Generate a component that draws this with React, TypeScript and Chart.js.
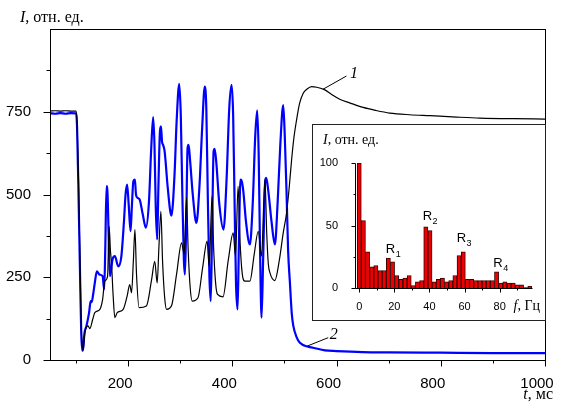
import React, { useEffect, useRef } from "react";
import { Chart, registerables } from "chart.js";
Chart.register(...registerables);

const SANS = '"Liberation Sans", Arial, sans-serif';
const SERIF = '"Liberation Serif", "Times New Roman", serif';

// ---- main chart: curve 2 (blue) ----
const timeBlue = [50, 60, 70, 80, 90, 100, 102, 105, 108, 110, 112, 114, 116, 120, 125, 128, 130, 133, 136, 140, 145, 151, 154, 156, 158.5, 160.5, 162.5, 165, 170, 174.5, 181, 187, 192, 195, 198, 201, 204.6, 207, 210, 213, 215, 218, 222, 228, 234, 240, 244, 248, 250.5, 253, 255.7, 258, 261, 263, 265, 267, 270, 276, 283, 289, 293, 298, 301, 304, 307, 309, 311.5, 314, 316, 319, 324, 331, 337, 342, 347, 350, 353, 356, 358.5, 361, 364, 366, 369, 375, 383, 389, 394, 398.5, 401.5, 404.5, 407, 410, 412.5, 415.5, 418, 421, 426, 433.6, 439, 444, 447.7, 450.5, 453, 456, 459, 463, 465, 469, 475, 481.6, 487, 492, 497.6, 500.5, 504, 507, 510.4, 514, 517, 523, 529.6, 545.6, 555, 577.6, 600, 650, 700, 800, 900, 1000];
const valueBlue = [746, 744, 746, 744, 746, 745, 700, 480, 230, 80, 28, 40, 80, 103, 143, 178, 175, 200, 233, 268, 258, 253, 213, 330, 525, 500, 380, 253, 304, 314, 283, 314, 420, 500, 530, 470, 389, 460, 540, 545, 500, 490, 485, 440, 400, 480, 630, 734, 650, 460, 364, 520, 690, 706, 660, 650, 630, 520, 436, 560, 720, 834, 740, 500, 300, 258, 420, 640, 650, 600, 500, 414, 530, 700, 826, 760, 480, 250, 178, 380, 630, 638, 600, 470, 394, 550, 760, 831, 740, 450, 230, 153, 350, 545, 540, 510, 420, 349, 470, 680, 754, 620, 350, 128, 300, 540, 550, 510, 420, 349, 480, 650, 770, 680, 505, 330, 235, 140, 103, 70, 52, 40, 37, 29, 27, 24, 23, 22, 21, 21];

// ---- main chart: curve 1 (black) ----
const timeBlack = [50, 60, 70, 80, 90, 100, 102, 105, 108, 110, 113.6, 116, 118, 123, 126.5, 132, 136, 145.7, 151, 155, 160.5, 163.5, 166, 168, 171, 174.5, 179, 190.4, 198, 203, 206.5, 210, 213, 216, 221, 235, 245, 251, 255.7, 259, 262.8, 266, 270, 273.7, 283, 293, 302.5, 307.5, 312, 315, 319, 323, 334, 343, 351.6, 355.5, 361, 364, 368, 371.6, 382, 392, 401.6, 406, 411, 415, 419, 424, 433.6, 442, 449.6, 456, 462.5, 466, 469, 472, 481.6, 490, 497.6, 504, 509, 513.7, 518, 523.3, 529, 536, 543, 552, 562, 577.6, 590, 606, 625, 651, 675, 702, 740, 779, 830, 875, 940, 1000];
const valueBlack = [752, 753, 752, 753, 752, 752, 720, 520, 260, 100, 30, 70, 92, 103, 95, 123, 143, 153, 183, 238, 253, 404, 330, 294, 200, 128, 143, 153, 193, 228, 203, 300, 394, 260, 158, 163, 243, 298, 233, 340, 449, 300, 190, 153, 163, 260, 354, 320, 490, 340, 220, 178, 188, 280, 359, 283, 495, 340, 230, 198, 191, 300, 384, 314, 525, 350, 260, 238, 238, 320, 389, 314, 545, 380, 290, 264, 240, 300, 384, 444, 520, 605, 670, 726, 775, 806, 818, 826, 824, 816, 803, 788, 777, 763, 754, 746, 741, 738, 734, 731, 729, 728];

const xTickMarksMain = [100, 200, 300, 400, 500, 600, 700, 800, 900, 1000];
const xLabelsMain = [200, 400, 600, 800, 1000];
const yTickMarksMain = [0, 125, 250, 375, 500, 625, 750, 875];
const yLabelsMain = [0, 250, 500, 750];

// ---- inset: spectrum ----
const spectrumFreq = [0, 2.37, 4.74, 7.11, 9.48, 11.85, 14.22, 16.59, 18.96, 21.33, 23.7, 26.07, 28.44, 30.81, 33.18, 35.55, 37.92, 40.29, 42.66, 45.03, 47.4, 49.77, 52.14, 54.51, 56.88, 59.25, 61.62, 63.99, 66.36, 68.73, 71.1, 73.47, 75.84, 78.21, 80.58, 82.95, 85.32, 87.69, 90.06, 92.43, 94.8, 97.17];
const spectrumAmp = [100, 54, 29, 17, 18, 14, 14, 24, 21, 10, 7, 8, 10, 2, 5, 6, 49, 46, 5, 7, 8, 5, 6, 10, 26, 29, 7, 7, 6, 6, 6, 6, 6, 13, 4, 5, 4, 4, 2.5, 2.5, 0.4, 1.3];
const insetXTickMarks = [0, 10, 20, 30, 40, 50, 60, 70, 80, 90];
const insetXLabels = [0, 20, 40, 60, 80];
const insetYTickMarks = [0, 25, 50, 75, 100];
const insetYLabels = [0, 50, 100];
const peakNames = ["R", "R", "R", "R"];
const peakSubs = ["1", "2", "3", "4"];
const peakFreq = [17.8, 38.8, 58.2, 79];
const peakLevel = [27.8, 54.4, 36.8, 17];

// annotation leaders (data coordinates)
const leader1 = { from: [574, 818], to: [619, 858], text: [625.6, 852.5] };
const leader2 = { from: [543.6, 42], to: [584, 67.5], text: [587, 62.4] };

type Part = [string, boolean];
function drawParts(ctx: CanvasRenderingContext2D, parts: Part[], x: number, y: number, size: number, align: "left" | "right") {
  const fonts = parts.map((p) => `${p[1] ? "italic " : ""}${size}px ${SERIF}`);
  const widths = parts.map((p, i) => {
    ctx.font = fonts[i];
    return ctx.measureText(p[0]).width;
  });
  const total = widths.reduce((a, b) => a + b, 0);
  let cx = align === "right" ? x - total : x;
  ctx.textAlign = "left";
  ctx.textBaseline = "alphabetic";
  parts.forEach((p, i) => {
    ctx.font = fonts[i];
    ctx.fillText(p[0], cx, y);
    cx += widths[i];
  });
}

function line(ctx: CanvasRenderingContext2D, x1: number, y1: number, x2: number, y2: number) {
  ctx.beginPath();
  ctx.moveTo(x1, y1);
  ctx.lineTo(x2, y2);
  ctx.stroke();
}

const noPad = (s: any) => {
  s.paddingLeft = 0;
  s.paddingRight = 0;
  s.paddingTop = 0;
  s.paddingBottom = 0;
};

const mainDecor = {
  id: "mainDecor",
  afterDraw(chart: any) {
    const { ctx, chartArea: a, scales } = chart;
    const x = scales.x;
    const y = scales.y;
    ctx.save();
    ctx.strokeStyle = "#000";
    ctx.lineWidth = 1;
    const L = Math.round(a.left) + 0.5;
    const T = Math.round(a.top) + 0.5;
    const R = Math.round(a.right) + 0.5;
    const B = Math.round(a.bottom) + 0.5;
    ctx.strokeRect(L, T, R - L, B - T);
    xTickMarksMain.forEach((v) => {
      const px = Math.round(x.getPixelForValue(v)) + 0.5;
      const len = xLabelsMain.includes(v) ? 6 : 3;
      line(ctx, px, B, px, B + len);
    });
    yTickMarksMain.forEach((v) => {
      const py = Math.round(y.getPixelForValue(v)) + 0.5;
      const len = yLabelsMain.includes(v) ? 7 : 4;
      line(ctx, L, py, L - len, py);
    });
    [leader1, leader2].forEach((ld, i) => {
      line(ctx, x.getPixelForValue(ld.from[0]), y.getPixelForValue(ld.from[1]), x.getPixelForValue(ld.to[0]), y.getPixelForValue(ld.to[1]));
      ctx.fillStyle = "#000";
      drawParts(ctx, [[String(i + 1), true]], x.getPixelForValue(ld.text[0]), y.getPixelForValue(ld.text[1]), 16, "left");
    });
    ctx.fillStyle = "#000";
    drawParts(ctx, [["I", true], [", отн. ед.", false]], 20, 22, 16, "left");
    drawParts(ctx, [["t", true], [", мс", false]], 553, 399, 16, "right");
    ctx.restore();
  },
};

const insetDecor = {
  id: "insetDecor",
  beforeDraw(chart: any) {
    const { ctx, width, height } = chart;
    ctx.save();
    ctx.fillStyle = "#fff";
    ctx.fillRect(0, 0, width, height);
    ctx.restore();
  },
  afterDraw(chart: any) {
    const { ctx, chartArea: a, scales, width, height } = chart;
    const x = scales.x;
    const y = scales.y;
    ctx.save();
    ctx.strokeStyle = "#222";
    ctx.lineWidth = 1;
    ctx.strokeRect(0.5, 0.5, width - 1, height - 1);
    ctx.strokeStyle = "#000";
    const L = Math.round(a.left) + 0.5;
    const T = Math.round(a.top) + 0.5;
    const R = Math.round(a.right) + 0.5;
    const B = Math.round(a.bottom) + 0.5;
    line(ctx, L, T, L, B);
    line(ctx, L, B, R, B);
    insetXTickMarks.forEach((v) => {
      const px = Math.round(x.getPixelForValue(v)) + 0.5;
      const len = insetXLabels.includes(v) ? 4 : 2;
      line(ctx, px, B, px, B + len);
    });
    insetYTickMarks.forEach((v) => {
      const py = Math.round(y.getPixelForValue(v)) + 0.5;
      const len = insetYLabels.includes(v) ? 4 : 2;
      line(ctx, L, py, L - len, py);
    });
    ctx.fillStyle = "#000";
    drawParts(ctx, [["I", true], [", отн. ед.", false]], 11, 20, 14, "left");
    drawParts(ctx, [["f", true], [", Гц", false]], 228, 186, 14, "right");
    peakNames.forEach((n, i) => {
      const px = x.getPixelForValue(peakFreq[i]);
      const py = y.getPixelForValue(peakLevel[i]);
      ctx.font = `13px ${SANS}`;
      ctx.textAlign = "center";
      ctx.textBaseline = "alphabetic";
      const w = ctx.measureText(n).width;
      ctx.fillText(n, px, py);
      ctx.font = `9px ${SANS}`;
      ctx.textAlign = "left";
      ctx.fillText(peakSubs[i], px + w / 2 + 0.5, py + 4);
    });
    ctx.restore();
  },
};

export default function App() {
  const mainRef = useRef<HTMLCanvasElement>(null);
  const insetRef = useRef<HTMLCanvasElement>(null);

  useEffect(() => {
    const blueData = timeBlue.map((t, i) => ({ x: t, y: valueBlue[i] }));
    const blackData = timeBlack.map((t, i) => ({ x: t, y: valueBlack[i] }));
    const main = new Chart(mainRef.current as HTMLCanvasElement, {
      type: "line",
      data: {
        datasets: [
          {
            label: "1",
            data: blackData,
            borderColor: "#000",
            borderWidth: 1.2,
            pointRadius: 0,
            cubicInterpolationMode: "monotone",
            order: 0,
          },
          {
            label: "2",
            data: blueData,
            borderColor: "#0000ff",
            borderWidth: 2.2,
            pointRadius: 0,
            cubicInterpolationMode: "monotone",
            order: 1,
          },
        ],
      },
      options: {
        responsive: false,
        animation: false,
        devicePixelRatio: 1,
        layout: { padding: { left: 0, right: 17, top: 29, bottom: 0 } },
        plugins: { legend: { display: false }, tooltip: { enabled: false } },
        events: [],
        scales: {
          x: {
            type: "linear",
            min: 50,
            max: 1000,
            afterBuildTicks: (s: any) => {
              s.ticks = xLabelsMain.map((v) => ({ value: v }));
            },
            afterFit: (s: any) => {
              s.height = 46;
              noPad(s);
            },
            ticks: {
              autoSkip: false,
              maxRotation: 0,
              padding: 7,
              labelOffset: -8,
              color: "#000",
              font: { family: SANS, size: 15 },
              callback: (v: any) => String(v),
            },
            grid: { display: false },
            border: { display: false },
          },
          y: {
            type: "linear",
            min: 0,
            max: 1000,
            afterBuildTicks: (s: any) => {
              s.ticks = yLabelsMain.map((v) => ({ value: v }));
            },
            afterFit: (s: any) => {
              s.width = 50;
              noPad(s);
            },
            ticks: {
              autoSkip: false,
              padding: 11,
              color: "#000",
              font: { family: SANS, size: 15 },
              callback: (v: any) => String(v),
            },
            grid: { display: false },
            border: { display: false },
          },
        },
      } as any,
      plugins: [mainDecor],
    });

    const inset = new Chart(insetRef.current as HTMLCanvasElement, {
      type: "bar",
      data: {
        datasets: [
          {
            data: spectrumFreq.map((f, i) => ({ x: f, y: spectrumAmp[i] })),
            backgroundColor: "#ee0000",
            borderColor: "#3a0000",
            borderWidth: 1,
            barPercentage: 1,
            categoryPercentage: 1,
          },
        ],
      },
      options: {
        responsive: false,
        animation: false,
        devicePixelRatio: 1,
        layout: { padding: { left: 0, right: 14, top: 39, bottom: 0 } },
        plugins: { legend: { display: false }, tooltip: { enabled: false } },
        events: [],
        scales: {
          x: {
            type: "linear",
            min: -2.4,
            max: 98.4,
            offset: false,
            afterBuildTicks: (s: any) => {
              s.ticks = insetXLabels.map((v) => ({ value: v }));
            },
            afterFit: (s: any) => {
              s.height = 33;
              noPad(s);
            },
            ticks: {
              autoSkip: false,
              maxRotation: 0,
              padding: 4,
              color: "#000",
              font: { family: SANS, size: 11 },
              callback: (v: any) => String(v),
            },
            grid: { display: false, offset: false },
            border: { display: false },
          },
          y: {
            type: "linear",
            min: 0,
            max: 100,
            afterBuildTicks: (s: any) => {
              s.ticks = insetYLabels.map((v) => ({ value: v }));
            },
            afterFit: (s: any) => {
              s.width = 43;
              noPad(s);
            },
            ticks: {
              autoSkip: false,
              padding: 9,
              color: "#000",
              font: { family: SANS, size: 11 },
              callback: (v: any) => String(v),
            },
            grid: { display: false },
            border: { display: false },
          },
        },
      } as any,
      plugins: [insetDecor],
    });

    return () => {
      main.destroy();
      inset.destroy();
    };
  }, []);

  return (
    <div style={{ position: "fixed", left: 0, top: 0, width: 562, height: 406, background: "#fff" }}>
      <canvas ref={mainRef} width={562} height={406} style={{ position: "absolute", left: 0, top: 0, width: 562, height: 406 }} />
      <canvas ref={insetRef} width={234} height={197} style={{ position: "absolute", left: 312, top: 124, width: 234, height: 197 }} />
    </div>
  );
}
